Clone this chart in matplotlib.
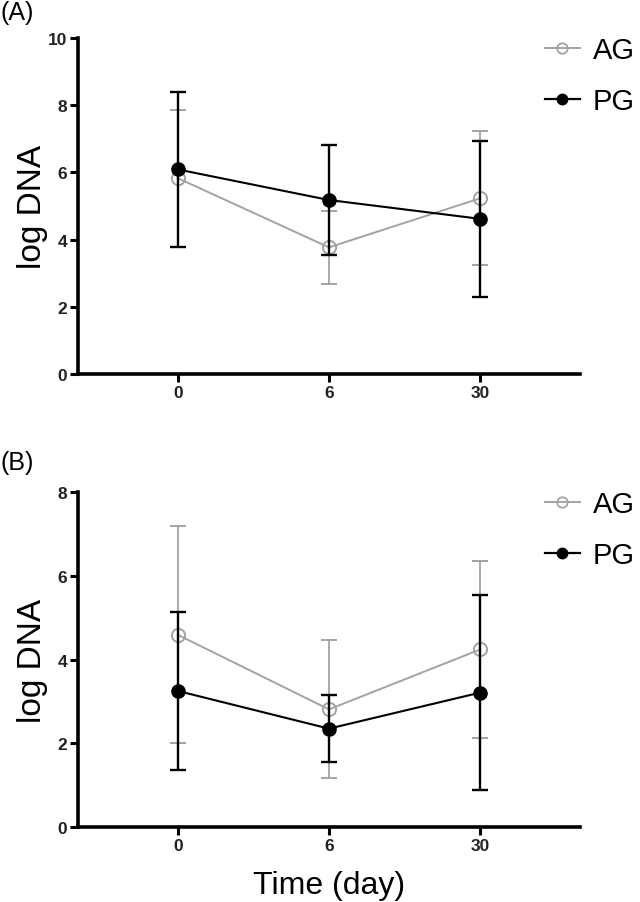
import numpy as np
import matplotlib.pyplot as plt
from matplotlib.lines import Line2D

plt.rcParams['font.family'] = ['Liberation Sans', 'DejaVu Sans']

days = ['0', '6', '30']

# panel A
a_ag_mean = [5.83, 3.77, 5.23]
a_ag_sd = [2.04, 1.08, 1.99]
a_pg_mean = [6.09, 5.18, 4.62]
a_pg_sd = [2.32, 1.65, 2.32]

# panel B
b_ag_mean = [4.59, 2.81, 4.24]
b_ag_sd = [2.59, 1.65, 2.11]
b_pg_mean = [3.25, 2.35, 3.21]
b_pg_sd = [1.89, 0.80, 2.32]

gray = '#a3a3a3'


def draw_panel(ax, ag_m, ag_s, pg_m, pg_s, ymax):
    x = np.arange(len(days))
    ax.errorbar(x, ag_m, yerr=ag_s, color=gray, lw=1.4, elinewidth=1.3,
                capsize=6, capthick=1.3, marker='o', ms=9.5, mfc='none',
                mec=gray, mew=1.4, zorder=2)
    ax.errorbar(x, pg_m, yerr=pg_s, color='black', lw=1.5, elinewidth=1.7,
                capsize=6, capthick=1.7, marker='o', ms=9.5, mfc='black',
                mec='black', zorder=3)
    ax.set_xlim(-0.66, 2.66)
    ax.set_ylim(0, ymax)
    ax.set_yticks(np.arange(0, ymax + 1, 2))
    ax.set_xticks(x)
    ax.set_xticklabels(days)
    for s in ['top', 'right']:
        ax.spines[s].set_visible(False)
    for s in ['left', 'bottom']:
        ax.spines[s].set_linewidth(2.6)
    ax.tick_params(width=2.2, length=6, labelsize=12.5, pad=2)
    for t in ax.get_xticklabels() + ax.get_yticklabels():
        t.set_fontweight('bold')
        t.set_color('#222222')
    ax.set_ylabel('log DNA', fontsize=24)
    ax.yaxis.set_label_coords(-0.06, 0.5)
    handles = [
        Line2D([], [], color=gray, lw=1.4, marker='o', ms=7.5, mfc='none',
               mec=gray, mew=1.3),
        Line2D([], [], color='black', lw=1.6, marker='o', ms=7.5,
               mfc='black', mec='black'),
    ]
    ax.legend(handles, ['AG', 'PG'], loc='upper left',
              bbox_to_anchor=(0.93, 1.006), frameon=False, fontsize=21,
              handlelength=1.2, handletextpad=0.45, labelspacing=0.8,
              borderaxespad=0, borderpad=0)


fig = plt.figure(figsize=(6.4, 9.03), dpi=100)
ax0 = fig.add_axes([0.122, 0.5847, 0.784, 0.372])
ax1 = fig.add_axes([0.122, 0.083, 0.784, 0.371])

draw_panel(ax0, a_ag_mean, a_ag_sd, a_pg_mean, a_pg_sd, 10)
draw_panel(ax1, b_ag_mean, b_ag_sd, b_pg_mean, b_pg_sd, 8)

ax1.set_xlabel('Time (day)', fontsize=23, labelpad=12)

fig.text(0.0, 0.999, '(A)', fontsize=18, va='top', ha='left')
fig.text(0.0, 0.500, '(B)', fontsize=18, va='top', ha='left')

fig.savefig('out.png', dpi=100)
